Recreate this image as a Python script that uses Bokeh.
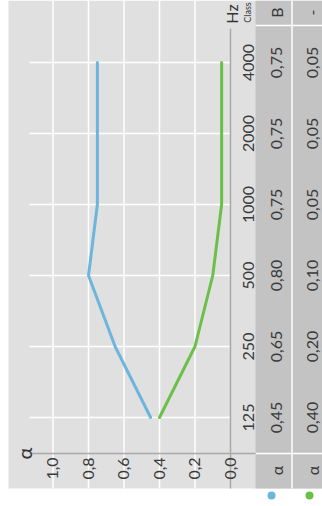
import math
from bokeh.plotting import figure
from bokeh.models import Range1d
from bokeh.core.properties import value
from bokeh.embed import file_html
from bokeh.resources import INLINE

# ---- data ----
freqs = ["125", "250", "500", "1000", "2000", "4000"]
alpha_blue = [0.45, 0.65, 0.80, 0.75, 0.75, 0.75]
alpha_green = [0.40, 0.20, 0.10, 0.05, 0.05, 0.05]
class_labels = ["B", "-"]
alpha_ticks = [0.0, 0.2, 0.4, 0.6, 0.8, 1.0]
alpha_tick_labels = ["0,0", "0,2", "0,4", "0,6", "0,8", "1,0"]
series_colors = ["#6cb6dd", "#6cc04a"]

# figure origin on the page
OX, OY = 0, 0
W, H = 322, 506

# ---- layout helpers (page pixel -> data units) ----
def X(px):
    return (230.0 - px) / 177.5

def Y(py):
    return (417.0 - py) / 71.0

FONT = value("Lato")
TXT = "#3a3a3a"
BG = "#e0e0e0"
COL = "#c3c3c3"
AXIS = "#a9a9a9"
idx = list(range(len(freqs)))

p = figure(width=W, height=H,
           x_range=Range1d(X(OX), X(OX + W)), y_range=Range1d(Y(OY + H), Y(OY)),
           x_axis_location=None, y_axis_location=None,
           output_backend="svg", toolbar_location=None, min_border=0)
p.outline_line_color = None
p.background_fill_color = "white"
p.border_fill_color = "white"
p.grid.grid_line_color = None

# backgrounds
p.quad(left=X(8), right=X(322), top=Y(0), bottom=Y(488), fill_color=BG, line_color=None)
p.quad(left=X(255), right=X(322), top=Y(0), bottom=Y(488), fill_color=COL, line_color=None)

# table separators
p.segment(x0=X(291.5), y0=Y(0), x1=X(291.5), y1=Y(488), line_color="white", line_width=1.5)
p.segment(x0=[X(255)] * 2, y0=[Y(25), Y(453)], x1=[X(322)] * 2, y1=[Y(25), Y(453)],
          line_color="white", line_width=1.5)

# vertical grid (alpha)
gt = alpha_ticks[1:]
p.segment(x0=gt, y0=[Y(0)] * len(gt), x1=gt, y1=[Y(488)] * len(gt),
          line_color="white", line_width=1.5)
# horizontal grid (frequencies)
p.segment(x0=[X(29)] * len(idx), y0=idx, x1=[0.0] * len(idx), y1=idx,
          line_color="white", line_width=1.5)

# axis lines
p.segment(x0=X(29), y0=Y(453), x1=X(255), y1=Y(453), line_color=AXIS, line_width=1.5)
p.segment(x0=0.0, y0=Y(28), x1=0.0, y1=Y(488), line_color=AXIS, line_width=1.5)

# series lines
for vals, c in zip([alpha_blue, alpha_green], series_colors):
    p.line(x=vals, y=idx, line_color=c, line_width=3, line_cap="round", line_join="round")

ang = math.pi / 2
FS = "16px"
# alpha tick labels
p.text(x=alpha_ticks, y=[Y(468)] * len(alpha_ticks), text=alpha_tick_labels, angle=ang,
       x_offset=-0.5, text_align="center", text_baseline="alphabetic",
       text_font=FONT, text_font_size=FS, text_color=TXT)
# frequency labels
p.text(x=[X(248)] * len(idx), y=idx, text=freqs, angle=ang,
       text_align="center", text_baseline="alphabetic",
       text_font=FONT, text_font_size=FS, text_color=TXT)

# table values
fmt = lambda v: f"{v:.2f}".replace(".", ",")
col_base = [X(275.5), X(311.5)]
for vals, cx in zip([alpha_blue, alpha_green], col_base):
    p.text(x=[cx] * len(idx), y=idx, text=[fmt(v) for v in vals], angle=ang,
           text_align="center", text_baseline="alphabetic",
           text_font=FONT, text_font_size=FS, text_color=TXT)

# header row
p.text(x=col_base, y=[Y(12)] * 2, text=class_labels, angle=ang,
       text_align="center", text_baseline="alphabetic",
       text_font=FONT, text_font_size=FS, text_color=TXT)
# bottom alpha row
p.text(x=col_base, y=[Y(470)] * 2, text=["α", "α"], angle=ang,
       text_align="center", text_baseline="alphabetic",
       text_font=FONT, text_font_size=FS, text_color=TXT)

# unit labels
p.text(x=[X(231)], y=[Y(13.5)], text=["Hz"], angle=ang,
       text_align="center", text_baseline="alphabetic",
       text_font=FONT, text_font_size="16px", text_color="#333333")
p.text(x=[X(247)], y=[Y(12)], text=["Class"], angle=ang,
       text_align="center", text_baseline="alphabetic",
       text_font=FONT, text_font_size="9px", text_color=TXT)
# alpha axis title
p.text(x=[X(23)], y=[Y(453)], text=["α"], angle=ang,
       text_align="center", text_baseline="alphabetic",
       text_font=FONT, text_font_size="20px", text_color="#333333")

# legend dots
p.scatter(x=[X(271), X(309)], y=[Y(495)] * 2, size=8, color=series_colors, line_color=None)

open("out.html", "w").write(file_html(p, INLINE))
